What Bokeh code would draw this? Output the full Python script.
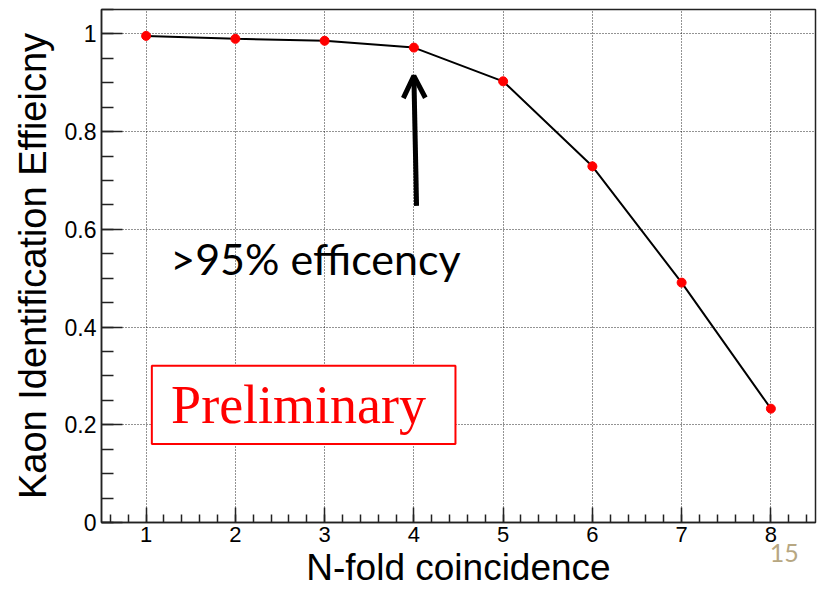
from bokeh.plotting import figure
from bokeh.models import (Range1d, SingleIntervalTicker, FixedTicker, CustomJSTickFormatter,
                          Arrow, OpenHead, Label, BoxAnnotation, LinearAxis)
from bokeh.embed import file_html
from bokeh.resources import INLINE

# ---- data ----
n_fold = [1, 2, 3, 4, 5, 6, 7, 8]
efficiency = [0.996, 0.990, 0.986, 0.972, 0.903, 0.729, 0.491, 0.233]

x_title = "N-fold coincidence"
y_title = "Kaon Identification Effieicny"
note_text = ">95% efficency"
prelim_text = "Preliminary"
page_text = "15"

# annotation anchors (data coordinates)
arrow_start = (4.03, 0.648)
arrow_end = (4.0, 0.914)
note_pos = (1.27, 0.540)
prelim_box = (1.064, 4.466, 0.1605, 0.3208)  # left, right, bottom, top
prelim_pos = (1.28, 0.241)
page_x = 8.15

p = figure(width=818, height=590, output_backend="svg", toolbar_location=None,
           x_range=Range1d(0.5, 8.5), y_range=Range1d(0, 1.05))
p.min_border_left = 101
p.min_border_right = 3
p.min_border_top = 9
p.min_border_bottom = 68
p.background_fill_color = "white"
p.border_fill_color = "white"
p.outline_line_color = "#222222"
p.outline_line_width = 1.5

xt = SingleIntervalTicker(interval=1, num_minor_ticks=5)
yt = SingleIntervalTicker(interval=0.2, num_minor_ticks=4)
p.xaxis.ticker = xt
p.yaxis.ticker = yt
p.xgrid.ticker = xt
p.ygrid.ticker = yt
p.yaxis.formatter = CustomJSTickFormatter(code="return (Math.round(tick*10)/10).toString();")

for ax in (p.xaxis, p.yaxis):
    ax.axis_line_color = "#222222"
    ax.axis_line_width = 1.5
    ax.major_tick_out = 0
    ax.minor_tick_out = 0
    ax.major_tick_line_color = "#222222"
    ax.minor_tick_line_color = "#222222"
    ax.major_tick_line_width = 1.5
    ax.minor_tick_line_width = 1.5
    ax.major_label_text_font = "Liberation Sans"
    ax.major_label_text_color = "black"
    ax.axis_label_text_font = "Liberation Sans"
    ax.axis_label_text_font_style = "normal"
    ax.axis_label_text_color = "black"

p.xaxis.major_tick_in = 15
p.xaxis.minor_tick_in = 8
p.yaxis.major_tick_in = 21
p.yaxis.minor_tick_in = 12
p.xaxis.major_label_text_font_size = "22px"
p.yaxis.major_label_text_font_size = "23px"
p.xaxis.major_label_standoff = 4
p.yaxis.major_label_standoff = 5
p.yaxis.axis_label = y_title
p.yaxis.axis_label_text_font_size = "38px"
p.yaxis.axis_label_standoff = 8

# second bottom axis: carries the page number and the x title
ax2 = LinearAxis(ticker=FixedTicker(ticks=[page_x], minor_ticks=[]),
                 formatter=CustomJSTickFormatter(code="return label;", args=dict(label=page_text)),
                 axis_label=x_title)
ax2.axis_line_color = None
ax2.major_tick_line_color = None
ax2.minor_tick_line_color = None
ax2.major_tick_in = 0
ax2.major_tick_out = 0
ax2.minor_tick_in = 0
ax2.minor_tick_out = 0
ax2.major_label_text_font = "Lato"
ax2.major_label_text_font_size = "25px"
ax2.major_label_text_color = "#b7a782"
ax2.major_label_standoff = -1
ax2.axis_label_text_font = "Liberation Sans"
ax2.axis_label_text_font_style = "normal"
ax2.axis_label_text_font_size = "37px"
ax2.axis_label_text_color = "black"
ax2.axis_label_standoff = -18
p.add_layout(ax2, "below")

for g in (p.xgrid, p.ygrid):
    g.grid_line_color = "black"
    g.grid_line_dash = "1 2"
    g.grid_line_width = 1
    g.grid_line_alpha = 0.85

p.line(n_fold, efficiency, line_color="black", line_width=2)
p.scatter(n_fold, efficiency, size=9, fill_color="red", line_color="red")

p.add_layout(Arrow(end=OpenHead(line_color="black", line_width=5, size=22),
                   x_start=arrow_start[0], y_start=arrow_start[1],
                   x_end=arrow_end[0], y_end=arrow_end[1],
                   line_color="black", line_width=5))

p.add_layout(Label(x=note_pos[0], y=note_pos[1], text=note_text,
                   text_font="Lato", text_font_size="43px", text_color="black",
                   text_baseline="alphabetic", text_align="left"))

p.add_layout(BoxAnnotation(left=prelim_box[0], right=prelim_box[1],
                           bottom=prelim_box[2], top=prelim_box[3],
                           fill_color="white", fill_alpha=1.0,
                           line_color="red", line_alpha=1.0, line_width=2))
p.add_layout(Label(x=prelim_pos[0], y=prelim_pos[1], text=prelim_text,
                   text_font="Liberation Serif", text_font_size="54px",
                   text_color="red", text_baseline="alphabetic", text_align="left"))

open("out.html", "w").write(file_html(p, INLINE))
